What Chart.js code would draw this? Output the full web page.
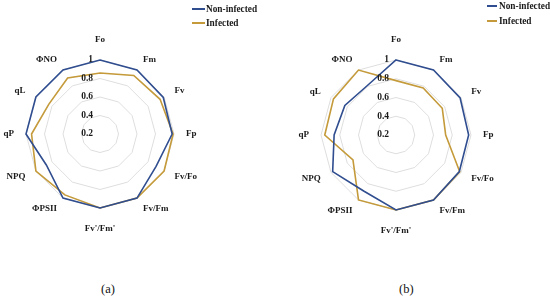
<!DOCTYPE html>
<html>
<head>
<meta charset="utf-8">
<script src="https://cdn.jsdelivr.net/npm/chart.js@4.4.1/dist/chart.umd.min.js"></script>
<style>
  html, body { margin: 0; padding: 0; background: #ffffff; }
  #wrap { position: relative; width: 550px; height: 299px; overflow: hidden; background: #fff; }
  canvas { position: absolute; top: 0; }
  .leg { position: absolute; font-family: "Liberation Serif", serif; font-weight: bold; font-size: 9.3px; color: #1a1a1a; white-space: nowrap; line-height: 10px; }
  .legline { position: absolute; height: 2px; }
  .cap { position: absolute; font-family: "Liberation Serif", serif; font-size: 12.5px; color: #111; line-height: 14px; }
</style>
</head>
<body>
<div id="wrap">
  <canvas id="ca" width="275" height="250" style="left:0px"></canvas>
  <canvas id="cb" width="275" height="250" style="left:275px"></canvas>

  <div class="legline" style="left:192px; top:8px; width:13px; background:#2F4D8F"></div>
  <div class="leg" style="left:206px; top:3.5px">Non-infected</div>
  <div class="legline" style="left:192px; top:22px; width:13px; background:#C49A3A"></div>
  <div class="leg" style="left:206px; top:18px">Infected</div>

  <div class="legline" style="left:487px; top:5px; width:10px; background:#2F4D8F"></div>
  <div class="leg" style="left:499px; top:1.3px">Non-infected</div>
  <div class="legline" style="left:487px; top:20px; width:10px; background:#C49A3A"></div>
  <div class="leg" style="left:499px; top:15.7px">Infected</div>

  <div class="cap" style="left:101px; top:282px">(a)</div>
  <div class="cap" style="left:399px; top:282px">(b)</div>
</div>
<script>
const categories = ['Fo', 'Fm', 'Fv', 'Fp', 'Fv/Fo', 'Fv/Fm', "Fv'/Fm'", 'ΦPSII', 'NPQ', 'qP', 'qL', 'ΦNO'];
const seriesNames = ['Non-infected', 'Infected'];
const nonInfectedA = [1.00, 1.00, 0.99, 0.98, 0.90, 1.00, 1.00, 1.00, 0.87, 1.00, 1.00, 1.00];
const infectedA    = [0.86, 0.93, 0.95, 0.99, 1.00, 1.00, 1.00, 0.96, 1.00, 0.94, 0.84, 0.90];
const nonInfectedB = [1.00, 1.00, 0.99, 0.975, 0.98, 1.00, 1.00, 0.89, 0.98, 0.86, 0.83, 0.81];
const infectedB    = [0.78, 0.78, 0.77, 0.73, 0.985, 1.00, 1.00, 1.00, 0.73, 0.96, 0.97, 1.00];
const tickValues = [0.2, 0.4, 0.6, 0.8, 1];
const tickLabels = ['0.2', '0.4', '0.6', '0.8', '1'];

const BLUE = '#2F4D8F';
const GOLD = '#C49A3A';

const radarText = {
  id: 'radarText',
  afterDraw(chart) {
    const s = chart.scales.r;
    const ctx = chart.ctx;
    ctx.save();
    ctx.fillStyle = '#1a1a1a';
    ctx.font = 'bold 9px "Liberation Serif"';
    const R = s.drawingArea;
    chart.data.labels.forEach((lab, i) => {
      const ang = s.getIndexAngle(i);
      const sn = Math.sin(ang), cs = Math.cos(ang);
      let p, align, base;
      if (Math.abs(sn) < 1e-6) {
        p = 16; align = 'center'; base = cs > 0 ? 'bottom' : 'top';
      } else {
        p = 12; align = sn > 0 ? 'left' : 'right'; base = 'middle';
      }
      const pos = s.getPointPosition(i, R + p);
      ctx.textAlign = align;
      ctx.textBaseline = base;
      ctx.fillText(lab, pos.x, pos.y);
    });
    ctx.font = 'bold 9.5px "Liberation Serif"';
    ctx.textAlign = 'right';
    ctx.textBaseline = 'middle';
    tickValues.forEach((v, k) => {
      const d = s.getDistanceFromCenterForValue(v);
      ctx.fillText(tickLabels[k], s.xCenter - 7, s.yCenter - d);
    });
    ctx.restore();
  }
};

function makeRadar(id, dataNon, dataInf, pad) {
  return new Chart(document.getElementById(id), {
    type: 'radar',
    data: {
      labels: categories,
      datasets: [
        { label: seriesNames[0], data: dataNon, borderColor: BLUE, borderWidth: 1.6, fill: false, pointRadius: 0, pointHoverRadius: 0, tension: 0, clip: false },
        { label: seriesNames[1], data: dataInf, borderColor: GOLD, borderWidth: 1.6, fill: false, pointRadius: 0, pointHoverRadius: 0, tension: 0, clip: false }
      ]
    },
    options: {
      responsive: false,
      animation: false,
      devicePixelRatio: 1,
      layout: { padding: pad },
      plugins: { legend: { display: false }, tooltip: { enabled: false }, title: { display: false } },
      scales: {
        r: {
          min: 0.2,
          max: 1,
          ticks: { display: false, stepSize: 0.2 },
          grid: { color: '#dedede', lineWidth: 1 },
          angleLines: { display: false },
          pointLabels: { display: false }
        }
      }
    },
    plugins: [radarText]
  });
}

makeRadar('ca', nonInfectedA, infectedA, { left: 26, top: 60, right: 101, bottom: 42 });
makeRadar('cb', nonInfectedB, infectedB, { left: 46, top: 60, right: 79, bottom: 40 });
</script>
</body>
</html>
